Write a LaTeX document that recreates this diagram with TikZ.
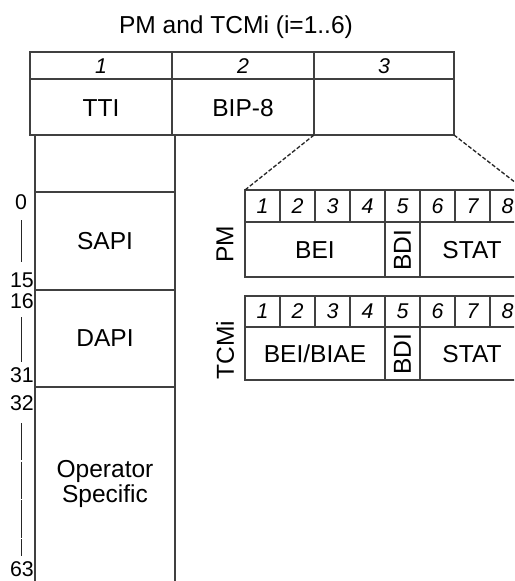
\documentclass[tikz,border=0pt]{standalone}
\usepackage{fontspec}
\setmainfont{Liberation Sans}
\usetikzlibrary{calc}

\begin{document}
\begin{tikzpicture}[x=0.75pt,y=-0.75pt,
  frame/.style={draw=black!75, line width=0.8pt},
  lab/.style={font=\fontsize{18.4}{21}\selectfont},
  num/.style={font=\fontsize{16}{18}\selectfont\itshape},
  side/.style={font=\fontsize{16}{18}\selectfont},
  zoomline/.style={black!85, line width=1pt, dash pattern=on 3pt off 1.5pt}]
\clip (0,0) rectangle (514,581);

\node[lab] (title) at (236,27) {PM and TCMi (i=1..6)};

%overhead bytes
\draw[frame] (30,52) rectangle (454,135);
\draw[frame] (30,79) -- (454,79);
\draw[frame] (172,52) -- (172,135); \draw[frame] (314,52) -- (314,135);
\node[num] (byte1) at (101,66) {1};
\node[num] (byte2) at (243,66) {2};
\node[num] (byte3) at (384,66) {3};
\node[lab] (tti) at (101,108) {TTI};
\node[lab] (bip) at (243,108) {BIP-8};
\coordinate (bsw) at (314,135); \coordinate (bse) at (454,135);

%TTI column
\draw[frame] (35,135) -- (35,590); \draw[frame] (175,135) -- (175,590);
\draw[frame] (35,192) -- (175,192);
\draw[frame] (35,290) -- (175,290);
\draw[frame] (35,387) -- (175,387);
\node[lab] (sapi) at (105,241) {SAPI};
\node[lab] (dapi) at (105,338) {DAPI};
\node[lab, align=center] (opspec) at (105,484) {Operator\\[-2pt]Specific};

%byte numbers
\node[side] (n0) at (21,202) {0};
\node[side] (n15) at (22,280) {15};
\node[side] (n16) at (22,301) {16};
\node[side] (n31) at (22,375) {31};
\node[side] (n32) at (22,403) {32};
\node[side] (n63) at (22,569) {63};
\draw[black!85, line width=0.7pt] (21,220) -- (21,262);
\draw[black!85, line width=0.7pt] (21,317) -- (21,362);
\draw[black!85, line width=0.7pt, dash pattern=on 28pt off 1pt] (21,423) -- (21,556);

%PM byte
\draw[frame] (245,190) rectangle (525,277);
\draw[frame] (245,222) -- (525,222);
\foreach \i in {1,...,7} \draw[frame] (245+35*\i,190) -- (245+35*\i,222);
\draw[frame] (385,222) -- (385,277); \draw[frame] (420,222) -- (420,277);
\foreach \i in {1,...,8} \node[num] (pm\i) at (227.5+35*\i,206) {\i};
\node[lab] (pmbei) at (315,250) {BEI};
\node[lab, rotate=90] (pmbdi) at (402.5,250) {BDI};
\node[lab] (pmstat) at (472,250) {STAT};
\node[lab, rotate=90] (pm) at (225,244) {PM};
\coordinate (pmnw) at (245,190); \coordinate (pmne) at (525,190);

%TCMi byte
\draw[frame] (245,296) rectangle (525,380);
\draw[frame] (245,327) -- (525,327);
\foreach \i in {1,...,7} \draw[frame] (245+35*\i,296) -- (245+35*\i,327);
\draw[frame] (385,327) -- (385,380); \draw[frame] (420,327) -- (420,380);
\foreach \i in {1,...,8} \node[num] (tcm\i) at (227.5+35*\i,311.5) {\i};
\node[lab] (tcmbei) at (315,354) {BEI/BIAE};
\node[lab, rotate=90] (tcmbdi) at (402.5,354) {BDI};
\node[lab] (tcmstat) at (472,354) {STAT};
\node[lab, rotate=90] (tcm) at (225,350) {TCMi};

%zoom lines
\draw[zoomline] (bsw) -- (pmnw);
\draw[zoomline] (bse) -- (pmne);

\end{tikzpicture}
\end{document}
